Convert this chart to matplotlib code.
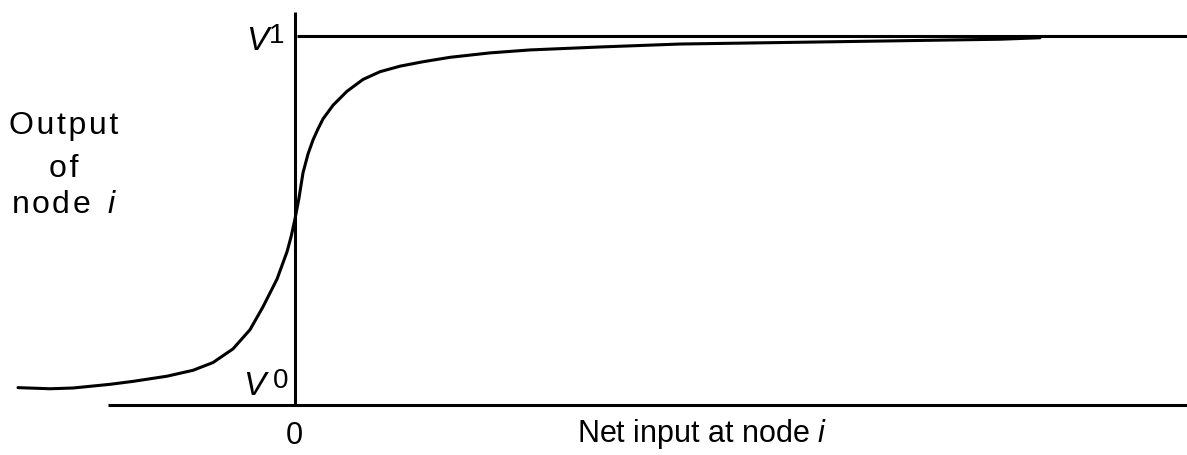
import numpy as np
import matplotlib
matplotlib.use('Agg')
import matplotlib.pyplot as plt

plt.rcParams['font.family'] = ['Liberation Sans', 'DejaVu Sans']
plt.rcParams['mathtext.fontset'] = 'custom'
plt.rcParams['mathtext.rm'] = 'Liberation Sans'
plt.rcParams['mathtext.it'] = 'Liberation Sans:italic'

# sigmoid: net input (arbitrary units), output (V0=0 .. V1=1)
net_input = [-2.77, -2.45, -2.22, -1.85, -1.62, -1.28, -1.02, -0.82, -0.62,
             -0.45, -0.32, -0.18, -0.08, -0.04, 0.00, 0.04, 0.08, 0.13,
             0.18, 0.23, 0.28, 0.38, 0.52, 0.68, 0.85, 1.05, 1.28, 1.55,
             1.95, 2.35, 3.05, 3.85, 5.35, 7.05, 7.45]
node_output = [0.047, 0.044, 0.046, 0.056, 0.064, 0.078, 0.094, 0.115, 0.152,
               0.204, 0.266, 0.341, 0.415, 0.455, 0.504, 0.561, 0.629, 0.680,
               0.718, 0.748, 0.775, 0.812, 0.850, 0.882, 0.903, 0.918, 0.930, 0.942,
               0.954, 0.962, 0.970, 0.978, 0.984, 0.991, 0.995]
v_low, v_high = 0.0, 1.0
x_label = 'Net input at node $i$'
hs = '\u200a'  # hair space, the original lettering is spaced out
y_label_lines = [hs.join('Output'), hs.join('of'), hs.join('node') + '  $i$']

#############################################################################
fig = plt.figure(figsize=(11.87, 4.56), dpi=100)
ax = fig.add_axes([0, 0, 1, 1])
ax.set_xlim(-2.95, 8.92)
ax.set_ylim(-0.1355, 1.100)
ax.axis('off')

lw = 2.2
# axes drawn by hand, like the original sketch
ax.plot([-1.87, 8.92], [v_low, v_low], color='black', lw=lw, solid_capstyle='butt')
ax.plot([0, 0], [v_low, 1.065], color='black', lw=lw, solid_capstyle='butt')
ax.plot([0.02, 8.92], [v_high, v_high], color='black', lw=lw, solid_capstyle='butt')

ax.plot(net_input, node_output, color='black', lw=lw,
        solid_joinstyle='round', solid_capstyle='round')

# V1 / V0 labels
ax.text(-0.49, 0.965, 'V', style='italic', fontsize=24, ha='left', va='baseline')
ax.text(-0.26, 0.984, '1', fontsize=20, ha='left', va='baseline')
ax.text(-0.52, 0.030, 'V', style='italic', fontsize=24, ha='left', va='baseline')
ax.text(-0.22, 0.049, '0', fontsize=20, ha='left', va='baseline')

ax.text(-0.01, -0.103, '0', fontsize=22, ha='center', va='baseline')
ax.text(4.07, -0.098, x_label, fontsize=22, ha='center', va='baseline')
for line, yb in zip(y_label_lines, [0.737, 0.621, 0.523]):
  ax.text(-2.31, yb, line, fontsize=23, ha='center', va='baseline')

fig.savefig('out.png', dpi=100)
